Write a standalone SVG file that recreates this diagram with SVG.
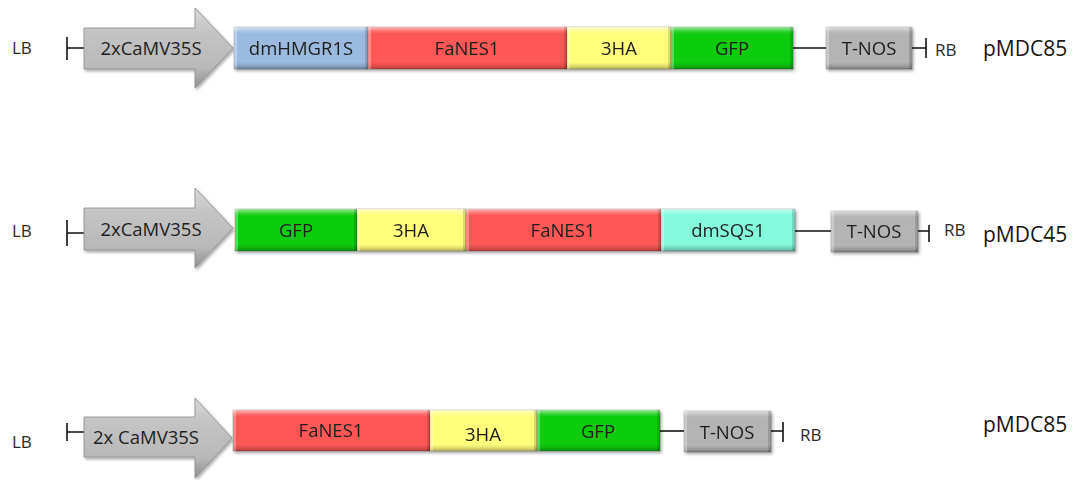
<svg xmlns="http://www.w3.org/2000/svg" width="1074" height="480" viewBox="0 0 1074 480">
  <defs>
    <!-- bevel shading laid over every block -->
    <linearGradient id="bev" x1="0" y1="0" x2="0" y2="1">
      <stop offset="0" stop-color="#fff" stop-opacity="0.6"/>
      <stop offset="0.1" stop-color="#fff" stop-opacity="0.15"/>
      <stop offset="0.16" stop-color="#fff" stop-opacity="0"/>
      <stop offset="0.84" stop-color="#000" stop-opacity="0"/>
      <stop offset="0.92" stop-color="#000" stop-opacity="0.12"/>
      <stop offset="1" stop-color="#000" stop-opacity="0.3"/>
    </linearGradient>
    <linearGradient id="arrowBev" x1="0" y1="0" x2="0" y2="1">
      <stop offset="0" stop-color="#d8d8d8"/>
      <stop offset="0.3" stop-color="#c4c4c4"/>
      <stop offset="0.75" stop-color="#b8b8b8"/>
      <stop offset="1" stop-color="#8f8f8f"/>
    </linearGradient>
    <filter id="shadow" x="-10%" y="-20%" width="125%" height="150%">
      <feDropShadow dx="1.5" dy="2" stdDeviation="1.5" flood-color="#000" flood-opacity="0.35"/>
    </filter>
  </defs>
  <style>
    text { font-family: "Open Sans", "Liberation Sans", sans-serif; fill: #1e1e1e; }
    .lbl { font-size: 18.5px; text-anchor: middle; }
    .side { font-size: 17px; fill: #2a2a2a; }
    .name { font-size: 21px; fill: #151515; }
    .blk { filter: url(#shadow); }
    .base { stroke: #000; stroke-opacity: 0.18; stroke-width: 1; }
    .bev { fill: url(#bev); }
    .lt { fill: #fff; opacity: 0.3; }
    .dk { fill: #000; opacity: 0.14; }
    .arrow { fill: url(#arrowBev); stroke: #8a8a8a; stroke-width: 0.8; filter: url(#shadow); }
    .ln { stroke: #111; stroke-width: 1.6; fill: none; }
    .blue { fill: #9cbadf; }
    .red { fill: #ff5757; }
    .yel { fill: #ffff7c; }
    .grn { fill: #10cc10; }
    .cyan { fill: #84fbdc; }
    .gray { fill: #b4b4b4; }
  </style>
  <rect width="1074" height="480" fill="#fff"/>

  <!-- connectors: border ticks and backbone lines -->
  <g id="connectors">
    <path class="ln" d="M67,37 V60 M67,48 H85"/>
    <path class="ln" d="M793,48 H826"/>
    <path class="ln" d="M912,48 H926 M926,38 V58"/>

    <path class="ln" d="M67,220 V246 M67,233 H85"/>
    <path class="ln" d="M795,231 H831"/>
    <path class="ln" d="M918,231 H929 M929,225 V242"/>

    <path class="ln" d="M67,423 V441 M67,432 H85"/>
    <path class="ln" d="M660,431 H684"/>
    <path class="ln" d="M771,431 H783 M783,422 V442"/>
  </g>

  <!-- construct 1 -->
  <g id="row1">
    <text class="side" x="12" y="54">LB</text>
    <g id="r1-promoter">
      <path class="arrow" d="M84,28 H195 V8 L233,48 L195,88 V69 H84 Z"/>
      <text class="lbl" x="151" y="55">2xCaMV35S</text>
    </g>
    <g id="r1-dmHMGR1S" class="blk">
      <rect class="base blue" x="234" y="27" width="134" height="42"/>
      <rect class="bev" x="234" y="27" width="134" height="42"/>
      <rect class="lt" x="234" y="27" width="3" height="42"/><rect class="dk" x="365" y="27" width="3" height="42"/>
      <text class="lbl" x="301" y="55">dmHMGR1S</text>
    </g>
    <g id="r1-FaNES1" class="blk">
      <rect class="base red" x="368" y="27" width="199" height="42"/>
      <rect class="bev" x="368" y="27" width="199" height="42"/>
      <rect class="lt" x="368" y="27" width="3" height="42"/><rect class="dk" x="564" y="27" width="3" height="42"/>
      <text class="lbl" x="467" y="55">FaNES1</text>
    </g>
    <g id="r1-3HA" class="blk">
      <rect class="base yel" x="567" y="27" width="104" height="42"/>
      <rect class="bev" x="567" y="27" width="104" height="42"/>
      <rect class="lt" x="567" y="27" width="3" height="42"/><rect class="dk" x="668" y="27" width="3" height="42"/>
      <text class="lbl" x="619" y="55">3HA</text>
    </g>
    <g id="r1-GFP" class="blk">
      <rect class="base grn" x="671" y="27" width="122" height="42"/>
      <rect class="bev" x="671" y="27" width="122" height="42"/>
      <rect class="lt" x="671" y="27" width="3" height="42"/><rect class="dk" x="790" y="27" width="3" height="42"/>
      <text class="lbl" x="732" y="55">GFP</text>
    </g>
    <g id="r1-TNOS" class="blk">
      <rect class="base gray" x="826" y="27" width="86" height="42"/>
      <rect class="bev" x="826" y="27" width="86" height="42"/>
      <rect class="lt" x="826" y="27" width="3" height="42"/><rect class="dk" x="909" y="27" width="3" height="42"/>
      <text class="lbl" x="869" y="55">T-NOS</text>
    </g>
    <text class="side" x="935" y="56">RB</text>
    <text class="name" x="983" y="56">pMDC85</text>
  </g>

  <!-- construct 2 -->
  <g id="row2">
    <text class="side" x="12" y="237">LB</text>
    <g id="r2-promoter">
      <path class="arrow" d="M84,208 H195 V188 L233,228 L195,268 V250 H84 Z"/>
      <text class="lbl" x="151" y="236">2xCaMV35S</text>
    </g>
    <g id="r2-GFP" class="blk">
      <rect class="base grn" x="235" y="209" width="122" height="42"/>
      <rect class="bev" x="235" y="209" width="122" height="42"/>
      <rect class="lt" x="235" y="209" width="3" height="42"/><rect class="dk" x="354" y="209" width="3" height="42"/>
      <text class="lbl" x="296" y="237">GFP</text>
    </g>
    <g id="r2-3HA" class="blk">
      <rect class="base yel" x="357" y="209" width="109" height="42"/>
      <rect class="bev" x="357" y="209" width="109" height="42"/>
      <rect class="lt" x="357" y="209" width="3" height="42"/><rect class="dk" x="463" y="209" width="3" height="42"/>
      <text class="lbl" x="411" y="237">3HA</text>
    </g>
    <g id="r2-FaNES1" class="blk">
      <rect class="base red" x="466" y="209" width="195" height="42"/>
      <rect class="bev" x="466" y="209" width="195" height="42"/>
      <rect class="lt" x="466" y="209" width="3" height="42"/><rect class="dk" x="658" y="209" width="3" height="42"/>
      <text class="lbl" x="563" y="237">FaNES1</text>
    </g>
    <g id="r2-dmSQS1" class="blk">
      <rect class="base cyan" x="661" y="209" width="134" height="42"/>
      <rect class="bev" x="661" y="209" width="134" height="42"/>
      <rect class="lt" x="661" y="209" width="3" height="42"/><rect class="dk" x="792" y="209" width="3" height="42"/>
      <text class="lbl" x="728" y="237">dmSQS1</text>
    </g>
    <g id="r2-TNOS" class="blk">
      <rect class="base gray" x="831" y="211" width="87" height="41"/>
      <rect class="bev" x="831" y="211" width="87" height="41"/>
      <rect class="lt" x="831" y="211" width="3" height="41"/><rect class="dk" x="915" y="211" width="3" height="41"/>
      <text class="lbl" x="874" y="238">T-NOS</text>
    </g>
    <text class="side" x="944" y="236">RB</text>
    <text class="name" x="983" y="242">pMDC45</text>
  </g>

  <!-- construct 3 -->
  <g id="row3">
    <text class="side" x="12" y="448">LB</text>
    <g id="r3-promoter">
      <path class="arrow" d="M84,417 H195 V398 L232,438 L195,478 V457 H84 Z"/>
      <text class="lbl" x="146" y="444">2x CaMV35S</text>
    </g>
    <g id="r3-FaNES1" class="blk">
      <rect class="base red" x="233" y="410" width="197" height="41"/>
      <rect class="bev" x="233" y="410" width="197" height="41"/>
      <rect class="lt" x="233" y="410" width="3" height="41"/><rect class="dk" x="427" y="410" width="3" height="41"/>
      <text class="lbl" x="331" y="437">FaNES1</text>
    </g>
    <g id="r3-3HA" class="blk">
      <rect class="base yel" x="430" y="410" width="107" height="41"/>
      <rect class="bev" x="430" y="410" width="107" height="41"/>
      <rect class="lt" x="430" y="410" width="3" height="41"/><rect class="dk" x="534" y="410" width="3" height="41"/>
      <text class="lbl" x="483" y="441">3HA</text>
    </g>
    <g id="r3-GFP" class="blk">
      <rect class="base grn" x="537" y="410" width="123" height="41"/>
      <rect class="bev" x="537" y="410" width="123" height="41"/>
      <rect class="lt" x="537" y="410" width="3" height="41"/><rect class="dk" x="657" y="410" width="3" height="41"/>
      <text class="lbl" x="598" y="438">GFP</text>
    </g>
    <g id="r3-TNOS" class="blk">
      <rect class="base gray" x="684" y="411" width="87" height="41"/>
      <rect class="bev" x="684" y="411" width="87" height="41"/>
      <rect class="lt" x="684" y="411" width="3" height="41"/><rect class="dk" x="768" y="411" width="3" height="41"/>
      <text class="lbl" x="727" y="439">T-NOS</text>
    </g>
    <text class="side" x="800" y="441">RB</text>
    <text class="name" x="983" y="432">pMDC85</text>
  </g>
</svg>
